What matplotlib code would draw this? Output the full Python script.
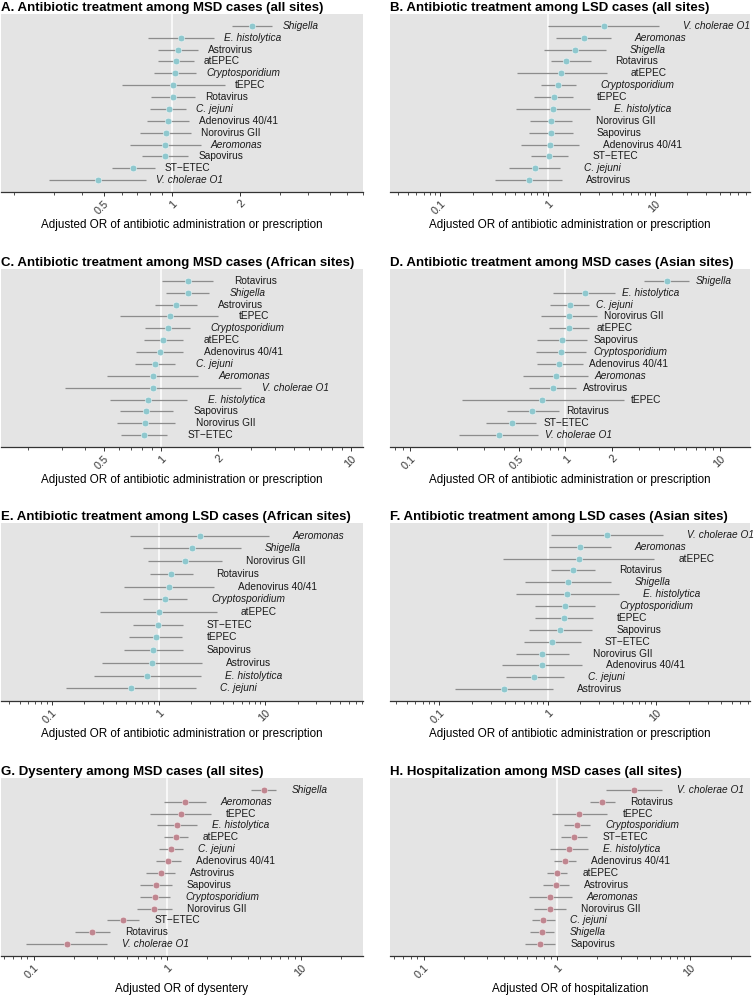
import matplotlib
matplotlib.use("Agg")
import matplotlib.pyplot as plt
from matplotlib.ticker import FixedLocator, LogLocator, NullFormatter

plt.rcParams['font.family'] = ['Liberation Sans', 'DejaVu Sans']

ITALIC = {"Shigella", "E. histolytica", "Cryptosporidium", "C. jejuni",
          "Aeromonas", "V. cholerae O1"}

# ---------------- data (top to bottom in each panel) ----------------
a_names = ["Shigella", "E. histolytica", "Astrovirus", "atEPEC", "Cryptosporidium",
           "tEPEC", "Rotavirus", "C. jejuni", "Adenovirus 40/41", "Norovirus GII",
           "Aeromonas", "Sapovirus", "ST\u2212ETEC", "V. cholerae O1"]
a_or = [2.27, 1.10, 1.06, 1.04, 1.03, 1.01, 1.01, 0.97, 0.96, 0.94, 0.93, 0.93, 0.67, 0.47]
a_lo = [1.85, 0.785, 0.87, 0.87, 0.83, 0.60, 0.805, 0.80, 0.775, 0.724, 0.654, 0.734, 0.545, 0.286]
a_hi = [2.79, 1.53, 1.30, 1.25, 1.28, 1.72, 1.27, 1.16, 1.19, 1.22, 1.34, 1.185, 0.838, 0.767]

b_names = ["V. cholerae O1", "Aeromonas", "Shigella", "Rotavirus", "atEPEC",
           "Cryptosporidium", "tEPEC", "E. histolytica", "Norovirus GII", "Sapovirus",
           "Adenovirus 40/41", "ST\u2212ETEC", "C. jejuni", "Astrovirus"]
b_or = [3.32, 2.16, 1.81, 1.48, 1.33, 1.26, 1.14, 1.12, 1.07, 1.07, 1.05, 1.03, 0.76, 0.67]
b_lo = [1.01, 1.19, 0.93, 1.07, 0.514, 0.86, 0.75, 0.507, 0.69, 0.67, 0.57, 0.70, 0.436, 0.323]
b_hi = [10.97, 3.89, 3.50, 2.53, 3.55, 1.84, 1.73, 2.48, 1.69, 1.71, 1.96, 1.56, 1.31, 1.36]

c_names = ["Rotavirus", "Shigella", "Astrovirus", "tEPEC", "Cryptosporidium", "atEPEC",
           "Adenovirus 40/41", "C. jejuni", "Aeromonas", "V. cholerae O1",
           "E. histolytica", "Sapovirus", "Norovirus GII", "ST\u2212ETEC"]
c_or = [1.39, 1.39, 1.20, 1.12, 1.09, 1.03, 0.99, 0.93, 0.91, 0.91, 0.86, 0.84, 0.83, 0.82]
c_lo = [1.02, 1.07, 0.93, 0.61, 0.83, 0.82, 0.74, 0.73, 0.52, 0.313, 0.54, 0.61, 0.59, 0.62]
c_hi = [1.89, 1.79, 1.55, 2.01, 1.42, 1.31, 1.31, 1.19, 1.57, 2.65, 1.38, 1.16, 1.19, 1.08]

d_names = ["Shigella", "E. histolytica", "C. jejuni", "Norovirus GII", "atEPEC",
           "Sapovirus", "Cryptosporidium", "Adenovirus 40/41", "Aeromonas", "Astrovirus",
           "tEPEC", "Rotavirus", "ST\u2212ETEC", "V. cholerae O1"]
d_or = [4.53, 1.34, 1.07, 1.06, 1.06, 0.95, 0.94, 0.915, 0.866, 0.83, 0.707, 0.61, 0.45, 0.373]
d_lo = [3.23, 0.837, 0.79, 0.70, 0.78, 0.66, 0.65, 0.66, 0.536, 0.586, 0.214, 0.42, 0.31, 0.206]
d_hi = [6.28, 2.10, 1.43, 1.60, 1.43, 1.38, 1.36, 1.29, 1.39, 1.17, 2.38, 0.906, 0.65, 0.67]

e_names = ["Aeromonas", "Shigella", "Norovirus GII", "Rotavirus", "Adenovirus 40/41",
           "Cryptosporidium", "atEPEC", "ST\u2212ETEC", "tEPEC", "Sapovirus", "Astrovirus",
           "E. histolytica", "C. jejuni"]
e_or = [2.44, 2.05, 1.77, 1.31, 1.24, 1.15, 1.01, 0.99, 0.94, 0.885, 0.866, 0.78, 0.55]
e_lo = [0.54, 0.72, 0.79, 0.835, 0.47, 0.71, 0.284, 0.58, 0.53, 0.47, 0.294, 0.249, 0.136]
e_hi = [10.8, 5.87, 3.92, 2.08, 3.30, 1.86, 3.52, 1.68, 1.67, 1.69, 2.55, 2.49, 2.22]

f_names = ["V. cholerae O1", "Aeromonas", "atEPEC", "Rotavirus", "Shigella",
           "E. histolytica", "Cryptosporidium", "tEPEC", "Sapovirus", "ST\u2212ETEC",
           "Norovirus GII", "Adenovirus 40/41", "C. jejuni", "Astrovirus"]
f_or = [3.53, 1.99, 1.95, 1.71, 1.55, 1.51, 1.45, 1.41, 1.30, 1.10, 0.89, 0.88, 0.75, 0.395]
f_lo = [1.07, 1.03, 0.39, 1.07, 0.62, 0.51, 0.76, 0.76, 0.67, 0.60, 0.51, 0.38, 0.41, 0.139]
f_hi = [11.5, 3.84, 9.66, 2.73, 3.84, 4.59, 2.75, 2.60, 2.58, 2.02, 1.58, 2.06, 1.41, 1.13]

g_names = ["Shigella", "Aeromonas", "tEPEC", "E. histolytica", "atEPEC", "C. jejuni",
           "Adenovirus 40/41", "Astrovirus", "Sapovirus", "Cryptosporidium",
           "Norovirus GII", "ST\u2212ETEC", "Rotavirus", "V. cholerae O1"]
g_or = [5.28, 1.36, 1.26, 1.19, 1.17, 1.065, 1.02, 0.896, 0.82, 0.81, 0.80, 0.468, 0.275, 0.177]
g_lo = [4.27, 0.944, 0.74, 0.84, 0.955, 0.866, 0.82, 0.70, 0.63, 0.63, 0.59, 0.357, 0.204, 0.0876]
g_hi = [6.57, 1.94, 2.14, 1.68, 1.43, 1.32, 1.28, 1.14, 1.08, 1.05, 1.08, 0.617, 0.372, 0.357]

h_names = ["V. cholerae O1", "Rotavirus", "tEPEC", "Cryptosporidium", "ST\u2212ETEC",
           "E. histolytica", "Adenovirus 40/41", "atEPEC", "Astrovirus", "Aeromonas",
           "Norovirus GII", "C. jejuni", "Shigella", "Sapovirus"]
h_or = [3.80, 2.19, 1.47, 1.41, 1.35, 1.23, 1.15, 1.00, 0.98, 0.89, 0.886, 0.79, 0.77, 0.745]
h_lo = [2.34, 1.78, 0.91, 1.12, 1.08, 0.88, 0.944, 0.84, 0.79, 0.62, 0.676, 0.65, 0.63, 0.58]
h_hi = [6.17, 2.71, 2.39, 1.77, 1.69, 1.72, 1.40, 1.195, 1.23, 1.29, 1.17, 0.966, 0.955, 0.97]

titles = ["A. Antibiotic treatment among MSD cases (all sites)",
          "B. Antibiotic treatment among LSD cases (all sites)",
          "C. Antibiotic treatment among MSD cases (African sites)",
          "D. Antibiotic treatment among MSD cases (Asian sites)",
          "E. Antibiotic treatment among LSD cases (African sites)",
          "F. Antibiotic treatment among LSD cases (Asian sites)",
          "G. Dysentery among MSD cases (all sites)",
          "H. Hospitalization among MSD cases (all sites)"]
xlabel_abx = "Adjusted OR of antibiotic administration or prescription"
xlabels = [xlabel_abx] * 6 + ["Adjusted OR of dysentery", "Adjusted OR of hospitalization"]
tick_sets = [[0.5, 1, 2], [0.1, 1, 10], [0.5, 1, 2, 10], [0.1, 0.5, 1, 2, 10],
             [0.1, 1, 10], [0.1, 1, 10], [0.1, 1, 10], [0.1, 1, 10]]
tick_labels = [["0.5", "1", "2"], ["0.1", "1", "10"], ["0.5", "1", "2", "10"],
               ["0.1", "0.5", "1", "2", "10"], ["0.1", "1", "10"], ["0.1", "1", "10"],
               ["0.1", "1", "10"], ["0.1", "1", "10"]]
xlims = [(0.175, 7.03), (0.034, 76.8), (0.144, 11.6), (0.074, 15.5),
         (0.0335, 82.0), (0.035, 73.8), (0.057, 29.3), (0.056, 28.0)]

data = [(a_names, a_or, a_lo, a_hi), (b_names, b_or, b_lo, b_hi),
        (c_names, c_or, c_lo, c_hi), (d_names, d_or, d_lo, d_hi),
        (e_names, e_or, e_lo, e_hi), (f_names, f_or, f_lo, f_hi),
        (g_names, g_or, g_lo, g_hi), (h_names, h_or, h_lo, h_hi)]

# ---------------- style / layout ----------------
TEAL = "#8FC8CE"
MAUVE = "#C08690"
colors = [TEAL] * 6 + [MAUVE] * 2
label_offsets_pt = [7.2, 17.3, 15.0, 5.0, 17.3, 17.3, 10.8, 10.8]

W, H = 754, 997
fig = plt.figure(figsize=(W / 100, H / 100), dpi=100)

col_left = [1, 390]
col_width = [362, 360]
row_top = [14, 269, 523, 778]
panel_h = 178

for k in range(8):
    r, c = divmod(k, 2)
    left = col_left[c] / W
    bottom = 1 - (row_top[r] + panel_h) / H
    ax = fig.add_axes([left, bottom, col_width[c] / W, panel_h / H])
    names, orv, lo, hi = data[k]
    n = len(names)
    ax.set_facecolor("#E4E4E4")
    ax.set_xscale("log")
    ax.set_xlim(*xlims[k])
    ax.set_ylim(0, n + 1)
    ax.axvline(1, color="white", lw=1.1, zorder=1)
    ys = [n - i for i in range(n)]
    ax.hlines(ys, lo, hi, color="#8C8C8C", lw=0.9, zorder=2)
    ax.plot(orv, ys, "o", ms=4.8, mfc=colors[k], mec="white", mew=0.3, zorder=3)
    for name, y, h in zip(names, ys, hi):
        ax.annotate(name, xy=(h, y), xytext=(label_offsets_pt[k], 0),
                    textcoords="offset points", ha="left", va="center",
                    fontsize=7.3, color="#1a1a1a",
                    style="italic" if name in ITALIC else "normal")
    for s in ["top", "right", "left"]:
        ax.spines[s].set_visible(False)
    ax.spines["bottom"].set_color("#333333")
    ax.spines["bottom"].set_linewidth(0.9)
    ax.set_yticks([])
    ax.xaxis.set_major_locator(FixedLocator(tick_sets[k]))
    ax.set_xticklabels(tick_labels[k])
    ax.xaxis.set_minor_locator(LogLocator(base=10, subs=range(1, 10), numticks=50))
    ax.xaxis.set_minor_formatter(NullFormatter())
    ax.tick_params(axis="x", which="major", length=3.2, width=0.7, color="#333333",
                   labelsize=7.8, labelcolor="#333333", pad=1.5)
    ax.tick_params(axis="x", which="minor", length=2.0, width=0.6, color="#333333")
    for lab in ax.get_xticklabels():
        lab.set_rotation(45)
        lab.set_ha("right")
        lab.set_va("top")
        lab.set_rotation_mode("anchor")
    ax.set_title(titles[k], loc="left", fontsize=9.5, fontweight="bold",
                 pad=2.5, color="black")
    ax.text(0.5, -33 / panel_h, xlabels[k], transform=ax.transAxes,
            ha="center", va="center", fontsize=8.4, color="black")

fig.savefig("out.png", dpi=100)
